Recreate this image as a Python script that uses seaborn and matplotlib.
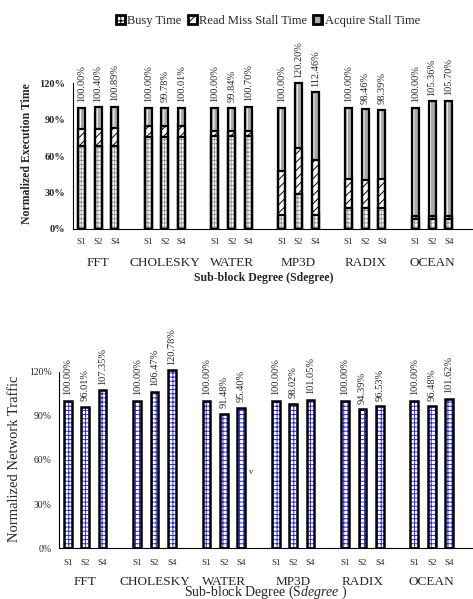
import numpy as np
import pandas as pd
import matplotlib
matplotlib.use("Agg")
import matplotlib.pyplot as plt
import seaborn as sns
from matplotlib.patches import Patch

sns.set_theme(style="white")
plt.rcParams['font.family'] = ['Liberation Serif', 'DejaVu Serif']
plt.rcParams['mathtext.fontset'] = 'custom'
plt.rcParams['mathtext.rm'] = 'Liberation Serif'
plt.rcParams['mathtext.it'] = 'Liberation Serif:italic'
plt.rcParams['hatch.linewidth'] = 0.7

# data
groups = ['FFT', 'CHOLESKY', 'WATER', 'MP3D', 'RADIX', 'OCEAN']
degrees = ['S1', 'S2', 'S4']
exec_total = [100.00, 100.40, 100.89, 100.00, 99.78, 100.01, 100.00, 99.84, 100.70,
              100.00, 120.20, 112.46, 100.00, 98.46, 98.39, 100.00, 105.36, 105.70]
busy = [68.5, 68.5, 68.5, 75.5, 75.5, 75.5, 77.0, 77.0, 77.0,
        11.5, 28.5, 11.5, 17.5, 17.5, 17.5, 8.0, 8.0, 8.0]
read_miss = [14.0, 14.0, 14.5, 9.0, 9.0, 9.0, 3.5, 3.5, 3.5,
             36.5, 38.0, 45.0, 24.0, 23.0, 23.5, 2.5, 2.5, 2.5]
traffic = [100.00, 96.01, 107.35, 100.00, 106.47, 120.78, 100.00, 91.48, 95.40,
           100.00, 98.02, 101.05, 100.00, 94.39, 96.53, 100.00, 96.48, 101.62]
yticks = [0, 30, 60, 90, 120]

# slot positions: 3 bars + 1 empty slot per group
pos = [g * 4 + j for g in range(len(groups)) for j in range(len(degrees))]
df = pd.DataFrame({
    'pos': pos,
    'group': np.repeat(groups, len(degrees)),
    'degree': degrees * len(groups),
    'busy': busy,
    'busy_rm': np.array(busy) + np.array(read_miss),
    'total': exec_total,
    'traffic': traffic,
})

fig = plt.figure(figsize=(4.73, 5.99), dpi=100)
W, H = 473, 599
ax1 = fig.add_axes([73 / W, 1 - 229 / H, 24 * 16.7 / W, 135 * 1.214 / H])
ax2 = fig.add_axes([59.3 / W, 1 - 548.3 / H, 24 * 17.32 / W, 135 * 1.4725 / H])


def layer(ax, col, face, hatch, hcolor, width):
    sns.barplot(data=df, x='pos', y=col, native_scale=True, width=width, color=face,
                saturation=1, errorbar=None, edgecolor=hcolor, linewidth=0,
                hatch=hatch, ax=ax)


def outline(ax, col, width, lw):
    sns.barplot(data=df, x='pos', y=col, native_scale=True, width=width, color='black',
                fill=False, errorbar=None, linewidth=lw, ax=ax)


# top chart: stacked execution time, drawn as overlapping cumulative bars
w1 = 0.42
layer(ax1, 'total', '#a8a8a8', '|||', 'white', w1)
layer(ax1, 'busy_rm', 'white', '////', 'black', w1)
layer(ax1, 'busy', 'white', '++++', '#9a9a9a', w1)
for col in ['total', 'busy_rm', 'busy']:
    outline(ax1, col, w1, 1.6)

# bottom chart: network traffic
w2 = 0.45
layer(ax2, 'traffic', 'white', '++++', '#2a2ae0', w2)
outline(ax2, 'traffic', w2, 1.8)


def style(ax, bold, ytick_size, label_pad):
    ax.set_xlim(-0.5, 23.5)
    ax.set_ylim(0, 135)
    sns.despine(ax=ax, top=True, right=True)
    ax.spines['left'].set_bounds(0, 120)
    ax.spines['left'].set_linewidth(0.8)
    ax.spines['bottom'].set_linewidth(0.8)
    ax.spines['left'].set_color('black')
    ax.spines['bottom'].set_color('black')
    ax.set_yticks(yticks)
    ax.set_yticklabels([f"{t}%" for t in yticks], fontsize=ytick_size,
                       fontweight='bold' if bold else 'normal')
    ax.set_xticks(df['pos'])
    ax.set_xticklabels(df['degree'], fontsize=6.5)
    ax.set_xticks(np.arange(0.5, 24, 1), minor=True)
    ax.tick_params(axis='x', which='major', length=0, pad=label_pad)
    ax.tick_params(axis='x', which='minor', direction='in', length=3, width=0.8, color='black')
    ax.tick_params(axis='y', direction='out', length=2.5, width=0.8, color='black', pad=3)
    ax.set_xlabel('')
    ax.set_ylabel('')
    ax.grid(False)


style(ax1, True, 7.5, 6.8)
style(ax2, False, 7, 8)

# value labels above bars
for ax, vals in [(ax1, exec_total), (ax2, traffic)]:
    for p, v in zip(pos, vals):
        ax.annotate(f"{v:.2f}%", (p, v), xytext=(0, 4), textcoords='offset points',
                    rotation=90, ha='center', va='bottom', fontsize=7.5)

# group names under the S labels
for ax, off in [(ax1, -24.5), (ax2, -24)]:
    for g, name in enumerate(groups):
        ax.annotate(name, (g * 4 + 1, 0), xycoords=('data', 'axes fraction'),
                    xytext=(0, off), textcoords='offset points',
                    ha='center', va='center', fontsize=9.5)

# axis titles
fig.text(27 / W, 1 - 154 / H, 'Normalized Execution Time', rotation=90, ha='center',
         va='center', fontsize=8.5, fontweight='bold')
fig.text(264 / W, 1 - 278 / H, 'Sub-block Degree (Sdegree)', ha='center', va='center',
         fontsize=8.5, fontweight='bold')
fig.text(15 / W, 1 - 459 / H, 'Normalized Network Traffic', rotation=90, ha='center',
         va='center', fontsize=10.5)
fig.text(266 / W, 1 - 592 / H, r'Sub-block Degree (S$\it{degree}$ )', ha='center',
         va='center', fontsize=10)
fig.text(251 / W, 1 - 472 / H, 'v', ha='center', va='center', fontsize=6)

# legend
handles = [
    Patch(facecolor='white', edgecolor='black', hatch='++', linewidth=2, label='Busy Time'),
    Patch(facecolor='white', edgecolor='black', hatch='///', linewidth=2, label='Read Miss Stall Time'),
    Patch(facecolor='#a8a8a8', edgecolor='black', hatch='||', linewidth=2, label='Acquire Stall Time'),
]
fig.legend(handles=handles, loc='center', bbox_to_anchor=(268 / W, 1 - 21 / H), ncol=3,
           frameon=False, fontsize=9, handlelength=0.7, handleheight=0.7,
           handletextpad=0.2, columnspacing=0.5, borderaxespad=0)

fig.savefig('out.png', dpi=100)
